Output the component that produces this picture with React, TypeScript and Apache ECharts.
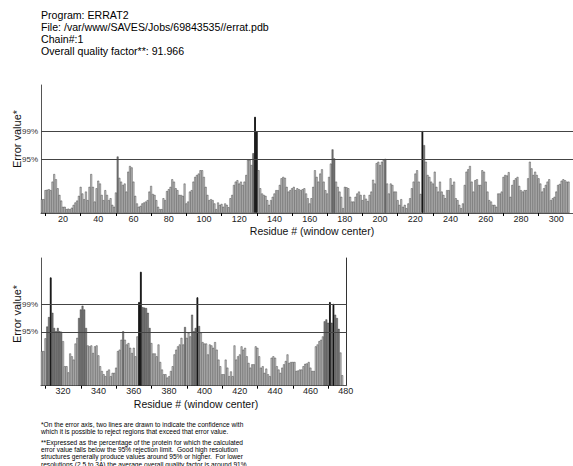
import React, { useEffect, useRef } from "react";
import * as echarts from "echarts";

// ---- data ----
const START1 = 8; // first residue (window center) of the upper panel
const VALUES1: number[] = [
  // 8-107
  2.9, 2.9, 4.8, 4.9, 5.0, 4.8, 6.6, 8.2, 7.1, 5.2,
  3.8, 2.6, 1.3, 1.3, 0.8, 0.9, 0.8, 1.1, 1.7, 2.2,
  2.6, 3.6, 5.5, 4.1, 2.9, 4.5, 2.7, 5.5, 8.2, 5.5,
  2.4, 5.2, 6.8, 6.2, 3.8, 2.7, 4.8, 3.8, 2.7, 3.1,
  1.7, 1.3, 4.3, 11.9, 7.4, 6.6, 5.9, 6.2, 4.5, 8.7,
  9.9, 9.6, 6.6, 3.6, 2.0, 1.3, 1.5, 2.0, 2.2, 2.4,
  2.7, 4.5, 5.7, 4.0, 3.8, 2.7, 1.3, 0.8, 0.8, 3.1,
  2.7, 4.6, 5.0, 5.5, 7.1, 6.6, 5.2, 4.8, 3.8, 3.8,
  3.6, 6.2, 2.0, 2.4, 4.5, 4.8, 6.6, 7.6, 8.0, 8.3,
  9.0, 9.0, 7.6, 5.5, 3.8, 2.7, 2.9, 2.7, 2.0, 0.8,
  // 108-187
  2.2, 1.7, 1.9, 1.3, 2.0, 1.7, 1.2, 3.1, 3.8, 5.9,
  6.6, 6.9, 6.2, 6.6, 5.9, 6.6, 8.0, 11.2, 11.2, 10.1,
  12.6, 20.3, 17.3, 9.0, 5.2, 4.1, 3.8, 3.6, 2.7, 1.7,
  2.7, 3.4, 4.1, 4.8, 4.8, 5.9, 7.3, 7.6, 7.4, 5.5,
  4.5, 4.8, 5.2, 5.5, 4.8, 5.2, 5.0, 4.8, 5.0, 5.2,
  4.1, 3.1, 2.0, 3.1, 5.5, 9.0, 7.6, 6.6, 8.3, 9.2,
  6.6, 4.8, 4.1, 7.6, 10.4, 13.4, 11.5, 6.6, 5.5, 4.5,
  3.4, 1.0, 5.5, 5.4, 5.2, 3.4, 2.4, 2.4, 3.4, 4.1,
  // 188-207
  4.5, 3.8, 2.7, 3.8, 3.0, 2.5, 3.8, 4.5, 7.0, 6.2,
  10.5, 10.8, 10.1, 10.8, 11.2, 11.4, 6.2, 4.1, 6.2, 5.9,
  // 208-307
  4.5, 4.5, 2.7, 1.7, 2.9, 1.3, 1.7, 1.0, 2.0, 3.1,
  5.2, 6.6, 8.3, 9.0, 6.6, 4.0, 17.3, 14.3, 10.8, 8.0,
  7.6, 6.6, 6.2, 8.7, 5.5, 4.5, 6.6, 4.5, 3.8, 3.1,
  4.8, 4.8, 7.3, 5.9, 6.6, 3.1, 2.7, 1.7, 1.0, 2.0,
  5.9, 8.7, 9.2, 9.9, 6.6, 4.5, 6.9, 7.1, 5.9, 5.9,
  9.0, 8.7, 6.6, 4.5, 2.7, 2.4, 1.7, 1.7, 1.3, 4.1,
  4.1, 4.5, 7.6, 8.0, 7.9, 8.6, 3.4, 5.9, 6.9, 7.3,
  7.6, 5.7, 4.8, 4.5, 4.8, 4.8, 7.3, 10.8, 9.4, 8.0,
  8.7, 8.0, 7.3, 6.2, 4.5, 5.2, 5.9, 6.6, 7.1, 2.7,
  3.1, 3.4, 4.5, 5.9, 6.1, 6.8, 7.1, 6.9, 6.6, 6.6,
];
const END1 = 309; // last category of the upper axis (panel is cut by the page edge)

const START2 = 308;
const VALUES2: number[] = [
  // 308-391
  7.3, 7.3, 10.0, 12.5, 14.5, 22.9, 15.4, 12.2, 11.5, 12.2,
  11.5, 11.4, 9.4, 4.1, 4.1, 2.8, 6.8, 6.2, 5.5, 8.9,
  10.1, 14.3, 16.1, 16.9, 16.1, 12.2, 8.5, 8.3, 8.5, 6.9,
  8.3, 8.5, 6.4, 4.1, 3.1, 2.4, 2.0, 3.1, 3.4, 2.0,
  2.7, 2.7, 3.8, 7.3, 7.6, 9.7, 11.5, 9.7, 8.7, 9.0,
  8.0, 6.9, 8.0, 6.2, 10.4, 17.7, 24.1, 16.6, 16.5, 16.4,
  15.4, 12.2, 9.0, 6.8, 6.8, 6.2, 8.7, 5.0, 3.4, 2.4,
  2.4, 1.7, 2.0, 3.1, 4.1, 6.6, 7.6, 8.3, 8.7, 10.1,
  8.7, 12.4, 10.1, 11.2,
  // 392-478
  10.4, 15.0, 11.5, 12.2, 18.7, 12.6, 11.2, 9.2, 8.9, 8.9,
  6.6, 8.7, 8.5, 8.0, 9.2, 7.6, 5.5, 4.1, 2.4, 2.4,
  5.5, 3.8, 2.0, 3.0, 2.0, 8.5, 5.5, 6.2, 6.6, 8.3,
  7.6, 8.0, 6.2, 4.8, 3.8, 4.5, 4.5, 8.3, 8.0, 6.2,
  3.8, 4.1, 2.7, 3.6, 2.4, 2.0, 5.9, 6.2, 5.9, 4.1,
  3.4, 2.7, 3.8, 4.5, 5.2, 6.6, 4.8, 5.0, 5.0, 5.0,
  3.1, 3.2, 3.4, 3.4, 4.1, 4.6, 4.7, 5.0, 3.8, 3.1,
  3.1, 8.3, 8.7, 9.4, 9.7, 10.4, 13.6, 14.0, 13.3, 17.7,
  13.3, 17.3, 15.0, 14.3, 12.0, 7.0, 2.2,
];
const END2 = 480;

const LIMIT95 = 11.36;
const LIMIT99 = 17.19;
const Y_MAX = 27;

const HEADER = [
  "Program: ERRAT2",
  "File: /var/www/SAVES/Jobs/69843535//errat.pdb",
  "Chain#:1",
  "Overall quality factor**: 91.966",
];
const FOOTNOTES = [
  "*On the error axis, two lines are drawn to indicate the confidence with",
  "which it is possible to reject regions that exceed that error value.",
  "**Expressed as the percentage of the protein for which the calculated",
  "error value falls below the 95% rejection limit.  Good high resolution",
  "structures generally produce values around 95% or higher.  For lower",
  "resolutions (2.5 to 3A) the average overall quality factor is around 91%.",
];
const Y_TITLE = "Error value*";
const X_TITLE = "Residue # (window center)";

const FONT = "'Liberation Sans', Arial, Helvetica, sans-serif";
const PX = 1.767; // width of one residue in pixels

function range(a: number, b: number): string[] {
  const out: string[] = [];
  for (let i = a; i <= b; i++) out.push(String(i));
  return out;
}

function barData(values: number[], start: number, end: number) {
  const out: any[] = [];
  for (let r = start; r <= end; r++) {
    const v = values[r - start];
    if (v === undefined) {
      out.push(null);
      continue;
    }
    if (v >= LIMIT99) {
      out.push({ value: v, itemStyle: { color: "#000", borderWidth: 0.9 } });
    } else if (v >= LIMIT95) {
      out.push({ value: v, itemStyle: { color: "#808080" } });
    } else {
      out.push({ value: v, itemStyle: { color: "#c8c8c8" } });
    }
  }
  return out;
}

function panelAxes(gridIndex: number, cats: string[]) {
  const x = [
    {
      type: "category",
      gridIndex,
      data: cats,
      boundaryGap: true,
      axisLine: { show: false },
      axisTick: {
        show: true,
        alignWithLabel: true,
        interval: (_i: number, v: string) => Number(v) % 20 === 10,
        length: 3,
        lineStyle: { color: "#000", width: 1 },
      },
      axisLabel: {
        interval: (_i: number, v: string) => Number(v) % 20 === 0,
        fontSize: 9,
        color: "#222",
        margin: 1,
        fontFamily: FONT,
      },
      splitLine: { show: false },
    },
    {
      type: "category",
      gridIndex,
      data: cats,
      position: "top",
      axisLine: { show: true, lineStyle: { color: "#555", width: 1 } },
      axisTick: { show: false },
      axisLabel: { show: false },
    },
  ];
  const y = [
    {
      type: "value",
      gridIndex,
      min: 0,
      max: Y_MAX,
      axisLine: { show: true, lineStyle: { color: "#555", width: 1 } },
      axisTick: { show: false },
      axisLabel: { show: false },
      splitLine: { show: false },
    },
    {
      type: "value",
      gridIndex,
      min: 0,
      max: Y_MAX,
      position: "right",
      axisLine: { show: true, lineStyle: { color: "#333", width: 1 } },
      axisTick: { show: false },
      axisLabel: { show: false },
      splitLine: { show: false },
    },
  ];
  return { x, y };
}

function barSeries(xAxisIndex: number, yAxisIndex: number, data: any[]) {
  return {
    type: "bar",
    xAxisIndex,
    yAxisIndex,
    data,
    barCategoryGap: "0%",
    itemStyle: { borderColor: "#111", borderWidth: 0.35 },
    markLine: {
      silent: true,
      symbol: ["none", "none"],
      lineStyle: { color: "#444", width: 1, type: "solid" },
      label: {
        position: "start",
        fontSize: 8,
        color: "#333",
        distance: 3,
        fontFamily: FONT,
      },
      data: [
        { yAxis: LIMIT95, label: { formatter: "95%" } },
        { yAxis: LIMIT99, label: { formatter: "99%" } },
      ],
    },
  };
}

export default function App() {
  const ref = useRef<HTMLDivElement>(null);

  useEffect(() => {
    if (!ref.current) return;
    const chart = echarts.init(ref.current, undefined, { renderer: "svg" });
    const cats1 = range(START1, END1);
    const cats2 = range(START2, END2);
    const a1 = panelAxes(0, cats1);
    const a2 = panelAxes(1, cats2);

    const graphics: any[] = [];
    HEADER.forEach((t, i) => {
      graphics.push({
        type: "text",
        x: 41,
        y: 15 + i * 11.9,
        style: {
          text: t,
          fontSize: 10.6,
          fontFamily: FONT,
          fill: "#000",
          textVerticalAlign: "middle",
        },
      });
    });
    FOOTNOTES.forEach((t, i) => {
      graphics.push({
        type: "text",
        x: 41,
        y: 424 + i * 7.1 + (i >= 2 ? 4.5 : 0),
        style: {
          text: t,
          fontSize: 6.6,
          fontFamily: FONT,
          fill: "#000",
          textVerticalAlign: "middle",
        },
      });
    });
    [139, 314].forEach((cy) => {
      graphics.push({
        type: "text",
        x: 17,
        y: cy,
        rotation: Math.PI / 2,
        style: {
          text: Y_TITLE,
          fontSize: 11,
          fontFamily: FONT,
          fill: "#111",
          textAlign: "center",
          textVerticalAlign: "middle",
        },
      });
    });
    [
      [312, 231],
      [196, 404],
    ].forEach(([cx, cy]) => {
      graphics.push({
        type: "text",
        x: cx,
        y: cy,
        style: {
          text: X_TITLE,
          fontSize: 10.5,
          fontFamily: FONT,
          fill: "#111",
          textAlign: "center",
          textVerticalAlign: "middle",
        },
      });
    });

    chart.setOption({
      animation: false,
      backgroundColor: "#fff",
      grid: [
        { left: 41, top: 85, width: cats1.length * PX, height: 128 },
        { left: 41, top: 258, width: cats2.length * PX, height: 127.7 },
      ],
      xAxis: [...a1.x, ...a2.x],
      yAxis: [...a1.y, ...a2.y],
      series: [
        barSeries(0, 0, barData(VALUES1, START1, END1)),
        barSeries(2, 2, barData(VALUES2, START2, END2)),
      ],
      graphic: graphics,
    });
    return () => chart.dispose();
  }, []);

  return (
    <div
      ref={ref}
      style={{
        position: "absolute",
        left: 0,
        top: 0,
        width: 573,
        height: 466,
        background: "#fff",
      }}
    />
  );
}
